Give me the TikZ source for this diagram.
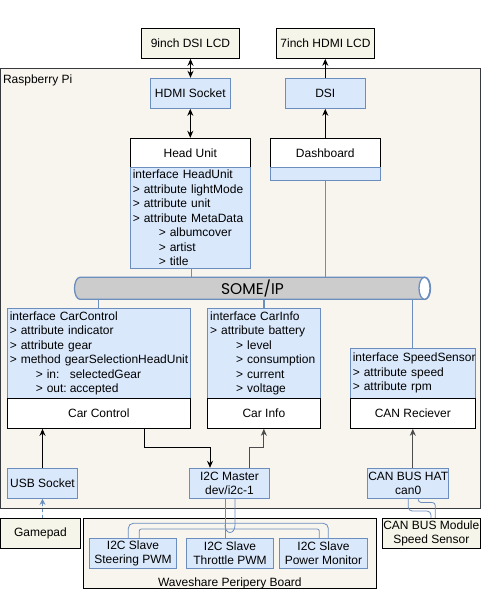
\documentclass[tikz,border=0pt]{standalone}
\usepackage{fontspec}
\setmainfont{Liberation Sans}
\newfontfamily\busfont{Poppins}
\usetikzlibrary{arrows.meta}
\definecolor{bluef}{HTML}{DAE8FC}
\definecolor{blued}{HTML}{6C8EBF}
\definecolor{beige}{HTML}{F8F5EE}
\definecolor{beigel}{HTML}{F5F5E9}
\definecolor{darkb}{HTML}{36393D}
\definecolor{busgray}{HTML}{CCCCCC}
\begin{document}
\begin{tikzpicture}[x=1pt,y=-1pt, line width=1pt, font=\fontsize{12}{14.5}\selectfont,
  base/.style={rectangle, inner sep=0pt, anchor=center, align=center},
  lcd/.style={base, draw=black, fill=beigel},
  bbox/.style={base, draw=blued, fill=bluef},
  wbox/.style={base, draw=black, fill=white},
  ifc/.style={base, draw=blued, fill=bluef, align=left, inner xsep=2.5pt, text width=#1-5pt, minimum width=#1},
  arr/.style={-{Stealth[length=7pt,width=6pt]}, black},
  darr/.style={{Stealth[length=7pt,width=6pt]}-{Stealth[length=7pt,width=6pt]}, black},
  garr/.style={-{Stealth[length=7pt,width=6pt]}, black!70},
  bline/.style={draw=blued, line width=1.3pt},
  wire/.style={draw=blued, line width=0.8pt},
]
\useasboundingbox (0,0) rectangle (482,590);

% Raspberry Pi frame
\node[base, draw=darkb, fill=beige, minimum width=480.3, minimum height=440] (rpi) at (240.15,288.3) {};
\node[anchor=north west, inner sep=0pt] (rpilabel) at (2.5,74) {Raspberry Pi};

% displays
\node[lcd, minimum width=97.6, minimum height=30] (lcd9) at (190.5,43.3) {9inch DSI LCD};
\node[lcd, minimum width=97.6, minimum height=30] (lcd7) at (325.5,43.3) {7inch HDMI LCD};

\node[bbox, minimum width=80, minimum height=30] (hdmi) at (190.3,93.3) {HDMI Socket};
\node[bbox, minimum width=80, minimum height=30] (dsi) at (325.3,93.3) {DSI};

% head unit
\node[wbox, minimum width=120, minimum height=29.4] (huhead) at (190.3,153) {Head Unit};
\node[ifc=120, minimum height=100.3] (hubody) at (190.3,217.85) {\mbox{interface HeadUnit}\\
\mbox{> attribute lightMode}\\
\mbox{> attribute unit}\\
\mbox{> attribute MetaData}\\
\mbox{\hspace*{26pt}> albumcover}\\
\mbox{\hspace*{26pt}> artist}\\
\mbox{\hspace*{26pt}> title}};

% dashboard
\node[wbox, minimum width=110, minimum height=29.4] (dashhead) at (325.3,153) {Dashboard};
\node[bbox, minimum width=110, minimum height=12.6] (dashbody) at (325.3,174) {};

% SOME/IP bus
\draw[draw=blued, fill=busgray, line width=1.3pt]
  (80,277.3) -- (425,277.3) arc[start angle=-90, end angle=90, x radius=5.5, y radius=11]
  -- (80,299.3) arc[start angle=90, end angle=270, x radius=5.5, y radius=11] -- cycle;
\draw[draw=blued, fill=white, line width=1.3pt] (424.5,288.3) ellipse[x radius=5.5, y radius=11];
\node[base, minimum width=355, minimum height=22, font=\busfont\fontsize{15.5}{15.5}\selectfont] (bus) at (252.5,288.3) {SOME/IP};

% car control
\node[ifc=183, minimum height=90] (ccbody) at (98.8,353.3) {\mbox{interface CarControl}\\
\mbox{> attribute indicator}\\
\mbox{> attribute gear}\\
\mbox{> method gearSelectionHeadUnit}\\
\mbox{\hspace*{26pt}\makebox[34pt][l]{> in:}selectedGear}\\
\mbox{\hspace*{26pt}\makebox[34pt][l]{> out:}accepted}};
\node[wbox, minimum width=183, minimum height=30] (cchead) at (98.8,413.3) {Car Control};

% car info
\node[ifc=112.3, minimum height=90] (cibody) at (263.85,353.3) {\mbox{interface CarInfo}\\
\mbox{> attribute battery}\\
\mbox{\hspace*{26pt}> level}\\
\mbox{\hspace*{26pt}> consumption}\\
\mbox{\hspace*{26pt}> current}\\
\mbox{\hspace*{26pt}> voltage}};
\node[wbox, minimum width=112.3, minimum height=30] (cihead) at (263.85,413.3) {Car Info};

% speed sensor
\node[ifc=125, minimum height=50] (ssbody) at (412.8,373.3) {\mbox{interface SpeedSensor}\\
\mbox{> attribute speed}\\
\mbox{> attribute rpm}};
\node[wbox, minimum width=125, minimum height=30] (canrx) at (412.8,413.3) {CAN Reciever};

% bottom row inside Pi
\node[bbox, minimum width=70.4, minimum height=30] (usb) at (42.5,483.3) {USB Socket};
\node[bbox, minimum width=79.6, minimum height=30] (i2cm) at (229.5,483.3) {I2C Master\\dev/i2c-1};
\node[bbox, minimum width=81, minimum height=30] (canhat) at (408.2,483.3) {CAN BUS HAT\\can0};

% outside
\node[lcd, minimum width=80, minimum height=30] (gamepad) at (40.5,533.3) {Gamepad};
\node[base, draw=black, fill=beige, minimum width=292.3, minimum height=70] (wave) at (229.85,553.3) {};
\node[anchor=base, inner sep=0pt] (wavelabel) at (229.85,586) {Waveshare Peripery Board};
\node[bbox, minimum width=87.4, minimum height=30] (steer) at (133,553.3) {I2C Slave\\Steering PWM};
\node[bbox, minimum width=86.6, minimum height=30] (throttle) at (230,553.3) {I2C Slave\\Throttle PWM};
\node[bbox, minimum width=88.4, minimum height=30] (power) at (323.5,553.3) {I2C Slave\\Power Monitor};
\node[lcd, minimum width=98, minimum height=30] (canmod) at (431.3,533.3) {CAN BUS Module\\Speed Sensor};

% connectors top
\draw[darr] (lcd9.south) -- (lcd9.south |- hdmi.north);
\draw[darr] (hdmi.south) -- (hdmi.south |- huhead.north);
\draw[arr] (dsi.north) -- (dsi.north |- lcd7.south);
\draw[arr] (dashhead.north) -- (dsi.south);

% bus links
\draw[bline] ([xshift=1pt]hubody.south) -- ([xshift=1pt]hubody.south |- bus.north);
\draw[bline] (dashbody.south) -- (dashbody.south |- bus.north);
\draw[bline] (ccbody.north) -- (ccbody.north |- bus.south);
\draw[bline] (cibody.north) -- (cibody.north |- bus.south);
\draw[bline] (ssbody.north) -- (ssbody.north |- bus.south);

% lower connectors
\draw[arr] (usb.north) -- (usb.north |- cchead.south);
\coordinate (c1) at (144.3,447.7);
\draw[arr] (c1 |- cchead.south) -- (c1) -| ([xshift=-19.5pt]i2cm.north);
\coordinate (c2) at (249.7,447.7);
\draw[garr] (c2 |- i2cm.north) -- (c2) -| (cihead.south);
\draw[garr] (canhat.north -| canrx.south) -- (canrx.south);
\draw[-{Stealth[length=6pt,width=6pt]}, draw=blued, fill=blued, dashed, line width=0.8pt] (usb.south |- gamepad.north) -- (usb.south);

% I2C wiring
\draw[wire] ([xshift=-4.5pt]i2cm.south) -- ([xshift=-4.5pt]i2cm.south |- throttle.north);
\draw[wire] ([xshift=5.5pt]i2cm.south) -- (235,525) .. controls (235,535) and (225,535) .. (225,525);
\draw[wire, rounded corners=5pt] ([xshift=-4.7pt]steer.north) |- (328.3,523.3) -- ([xshift=4.8pt]power.north);
\draw[wire, rounded corners=2pt] ([xshift=6.3pt]steer.north) |- (319.3,529) -- ([xshift=-4.2pt]power.north);

% CAN wiring
\draw[wire, rounded corners=4pt] (canhat.south) |- (431,511) -- ([xshift=-0.3pt]canmod.north);
\draw[wire, rounded corners=3pt] ([xshift=10pt]canhat.south) |- (435.3,502.5) -- ([xshift=4pt]canmod.north);
\end{tikzpicture}
\end{document}
